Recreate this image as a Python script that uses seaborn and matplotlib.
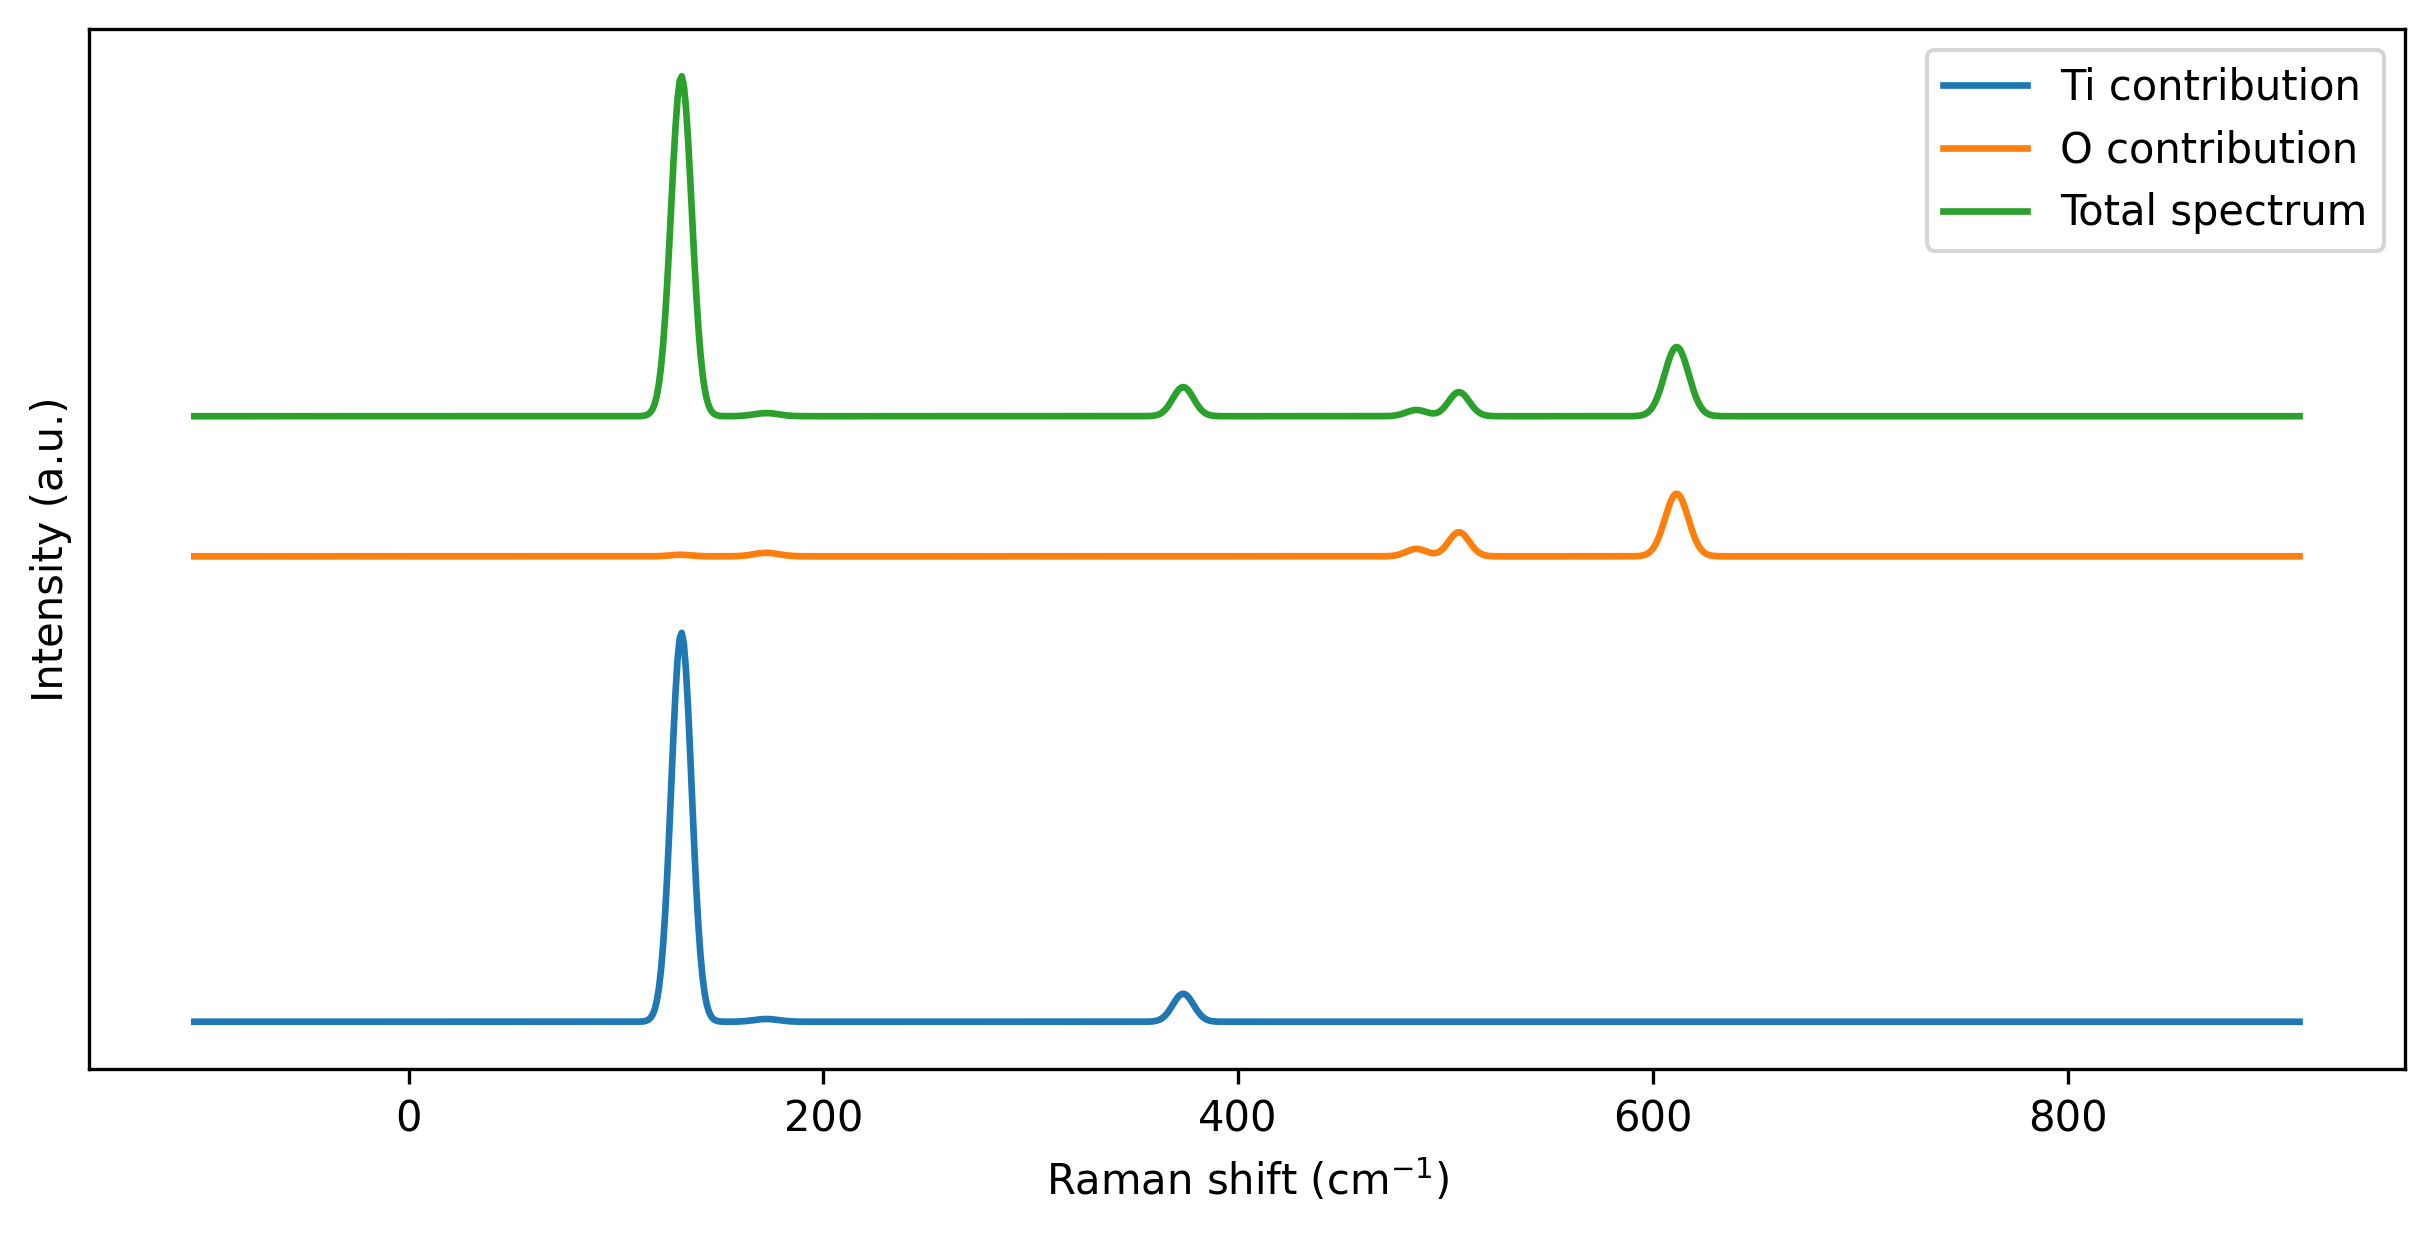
import numpy as np
import pandas as pd
import matplotlib
matplotlib.use("Agg")
import matplotlib.pyplot as plt
import seaborn as sns

# ---- data (peak tables of each spectrum) ----
SERIES = ["Ti contribution", "O contribution", "Total spectrum"]
COLORS = ["#1f77b4", "#ff7f0e", "#2ca02c"]
OFFSETS = [0.0, 1.196, 1.556]

TI_CENTERS = [131.5, 172.5, 373.5]
TI_HEIGHTS = [1.0, 0.007, 0.072]
TI_WIDTHS = [4.9, 6.0, 5.0]

O_CENTERS = [131.0, 172.5, 486.0, 506.5, 611.5]
O_HEIGHTS = [0.004, 0.009, 0.019, 0.062, 0.161]
O_WIDTHS = [5.0, 6.0, 5.0, 5.0, 5.6]

TOTAL_CENTERS = [131.5, 172.5, 373.5, 486.0, 506.5, 611.5]
TOTAL_HEIGHTS = [0.874, 0.008, 0.075, 0.016, 0.062, 0.178]
TOTAL_WIDTHS = [5.0, 6.0, 5.0, 5.0, 5.0, 5.8]

X_MIN, X_MAX, N_POINTS = -103.4, 911.9, 1016
XTICKS = [0, 200, 400, 600, 800]

x = np.linspace(X_MIN, X_MAX, N_POINTS)


def spectrum(centers, heights, widths):
    y = np.zeros_like(x)
    for c, h, w in zip(centers, heights, widths):
        y += h * np.exp(-0.5 * ((x - c) / w) ** 2)
    return y


tables = [
    (TI_CENTERS, TI_HEIGHTS, TI_WIDTHS),
    (O_CENTERS, O_HEIGHTS, O_WIDTHS),
    (TOTAL_CENTERS, TOTAL_HEIGHTS, TOTAL_WIDTHS),
]
frames = []
for name, off, (c, h, w) in zip(SERIES, OFFSETS, tables):
    frames.append(pd.DataFrame({"shift": x, "intensity": spectrum(c, h, w) + off, "series": name}))
df = pd.concat(frames, ignore_index=True)

plt.rcParams["font.family"] = ["DejaVu Sans"]
fig = plt.figure(figsize=(2434 / 300, 1234 / 300), dpi=300)
ax = fig.add_axes([0.0366, 0.1337, 0.988 - 0.0366, 0.9765 - 0.1337])

sns.lineplot(data=df, x="shift", y="intensity", hue="series", hue_order=SERIES,
             palette=COLORS, estimator=None, sort=False, linewidth=1.6, ax=ax)

ax.set_xticks(XTICKS)
ax.set_yticks([])
ax.set_xlabel("Raman shift (cm$^{-1}$)", fontsize=10)
ax.set_ylabel("Intensity (a.u.)", fontsize=10)
ax.tick_params(axis="x", labelsize=10)
ax.legend(loc="upper right", fontsize=10, title=None)

fig.savefig("out.png", dpi=300)
